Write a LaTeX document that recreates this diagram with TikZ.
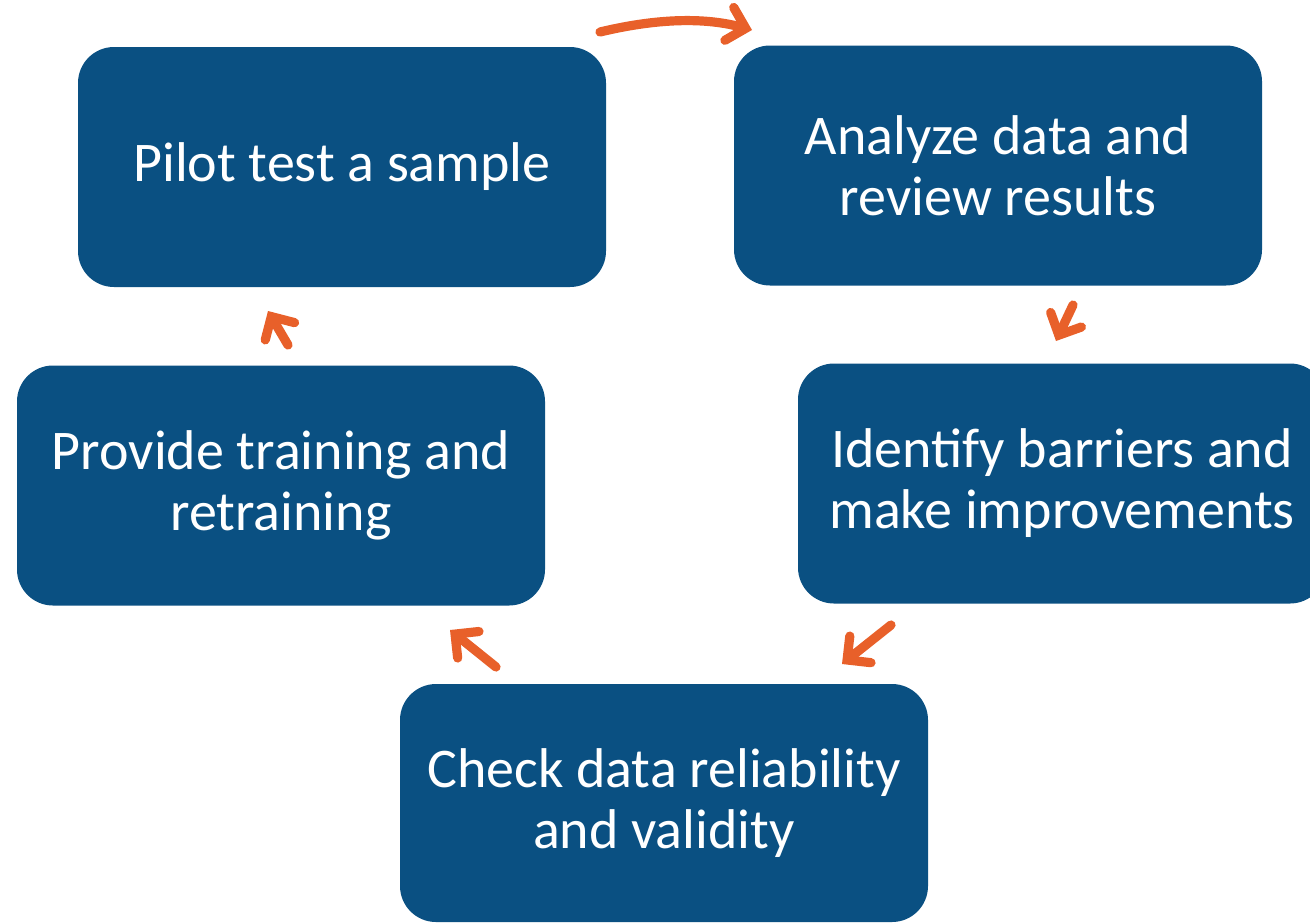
\documentclass[tikz,border=0pt]{standalone}
\usepackage{fontspec}
\setmainfont{Carlito}
\usetikzlibrary{arrows.meta}
\definecolor{boxblue}{HTML}{0A5082}
\definecolor{arroworange}{HTML}{E8602A}
\tikzset{stepbox/.style={
    rectangle, rounded corners=18pt, fill=boxblue, text=white,
    minimum width=264pt, minimum height=120pt, inner sep=0pt,
    align=center, font=\fontsize{28}{30.5}\selectfont
  }
}
\tikzset{cyclearrow/.style={
    draw=arroworange, line width=4.6pt, line cap=round,
    -{Straight Barb[length=8.5pt, width=17pt, line cap=round]}
  }
}

\begin{document}
\begin{tikzpicture}[x=0.5pt, y=-0.5pt]
    \useasboundingbox (0,0) rectangle (1310,922);
    \clip (0,0) rectangle (1310,922);
    % the five steps
    \node[stepbox] (pilot) at (342,167) {Pilot test a sample};
    \node[stepbox] (analyze) at (998,165.5) {Analyze data and\\review results};
    \node[stepbox] (identify) at (1062,483.5) {Identify barriers and\\make improvements};
    \node[stepbox, minimum height=119pt] (check) at (664,803) {Check data reliability\\and validity};
    \node[stepbox] (provide) at (281,485.5) {Provide training and\\retraining};
    % arrow ends
    \coordinate (a1) at (600,32);
    \coordinate (a2) at (752,30);
    \coordinate (b1) at (1073,305);
    \coordinate (b2) at (1056,341);
    \coordinate (c1) at (891,625);
    \coordinate (c2) at (842,664);
    \coordinate (d1) at (496,667);
    \coordinate (d2) at (450,630);
    \coordinate (e1) at (288,345);
    \coordinate (e2) at (268,311);
    \draw[cyclearrow] (a1) .. controls (650,20) and (700,16) .. (a2);
    \draw[cyclearrow] (b1) -- (b2);
    \draw[cyclearrow] (c1) -- (c2);
    \draw[cyclearrow] (d1) -- (d2);
    \draw[cyclearrow] (e1) -- (e2);
\end{tikzpicture}
\end{document}
